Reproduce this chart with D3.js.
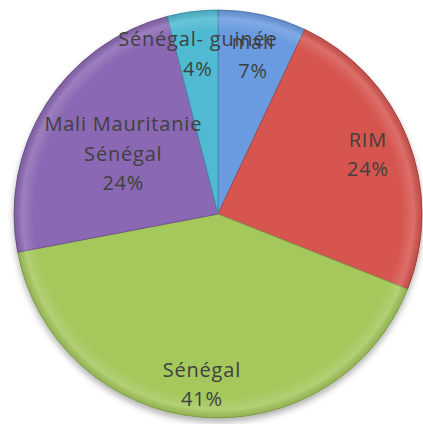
<!DOCTYPE html>
<html>
<head>
<meta charset="utf-8">
<script src="https://cdn.jsdelivr.net/npm/d3@7"></script>
<style>
  body { margin: 0; background: #fff; }
  svg { display: block; }
</style>
</head>
<body>
<div id="chart"></div>
<script>
// data
var labels = ["mali", "RIM", "Sénégal", "Mali Mauritanie\nSénégal", "Sénégal- guinée"];
var values = [7, 24, 41, 24, 4];
var colors = ["#6b9be0", "#d6544f", "#a4c85b", "#8a67b3", "#4fbad2"];

var width = 423, height = 424;
var cx = 218, cy = 214, radius = 204;

var svg = d3.select("#chart")
    .append("svg")
    .attr("width", width)
    .attr("height", height);

var defs = svg.append("defs");

// soft shadow under the pie
var shadow = defs.append("filter")
    .attr("id", "shadow")
    .attr("x", "-10%").attr("y", "-10%")
    .attr("width", "120%").attr("height", "125%");
shadow.append("feDropShadow")
    .attr("dx", 0).attr("dy", 4)
    .attr("stdDeviation", 3)
    .attr("flood-color", "#000")
    .attr("flood-opacity", 0.3);

// bevel near the rim (coords are inside the translated group)
var rim = defs.append("radialGradient")
    .attr("id", "rim")
    .attr("gradientUnits", "userSpaceOnUse")
    .attr("cx", 0).attr("cy", 0).attr("r", radius);
rim.append("stop").attr("offset", "0%").attr("stop-color", "#fff").attr("stop-opacity", 0);
rim.append("stop").attr("offset", "90%").attr("stop-color", "#fff").attr("stop-opacity", 0);
rim.append("stop").attr("offset", "96%").attr("stop-color", "#fff").attr("stop-opacity", 0.15);
rim.append("stop").attr("offset", "100%").attr("stop-color", "#000").attr("stop-opacity", 0.1);

var pie = d3.pie().sort(null).value(function(d) { return d; });
var arcs = pie(values);

var arc = d3.arc().innerRadius(0).outerRadius(radius);

var g = svg.append("g")
    .attr("transform", "translate(" + cx + "," + cy + ")");

g.append("g")
    .attr("filter", "url(#shadow)")
    .selectAll("path")
    .data(arcs)
    .enter().append("path")
    .attr("d", arc)
    .style("fill", function(d, i) { return colors[i]; })
    .style("stroke", function(d, i) { return d3.color(colors[i]).darker(0.8); })
    .style("stroke-width", 0.8);

g.append("circle")
    .attr("r", radius)
    .style("fill", "url(#rim)")
    .style("pointer-events", "none");

// excel pulls the wide label inward, the others sit near 0.8 r
function labelRadius(i) {
  if (i == 3) return radius * 0.55;
  if (i == 2) return radius * 0.84;
  return radius * 0.79;
}

var lineH = 29.5;

arcs.forEach(function(d, i) {
  var la = d3.arc().innerRadius(labelRadius(i)).outerRadius(labelRadius(i));
  var c = la.centroid(d);
  var lines = labels[i].split("\n");
  lines.push(Math.round(values[i]) + "%");
  var t = g.append("text")
      .attr("text-anchor", "middle")
      .attr("font-family", "Open Sans, sans-serif")
      .attr("font-size", "20px")
      .attr("letter-spacing", "0.8px")
      .attr("fill", "#404040");
  lines.forEach(function(line, j) {
    t.append("tspan")
      .attr("x", c[0])
      .attr("y", c[1] + (j - (lines.length - 1) / 2) * lineH + 7)
      .text(line);
  });
});
</script>
</body>
</html>
